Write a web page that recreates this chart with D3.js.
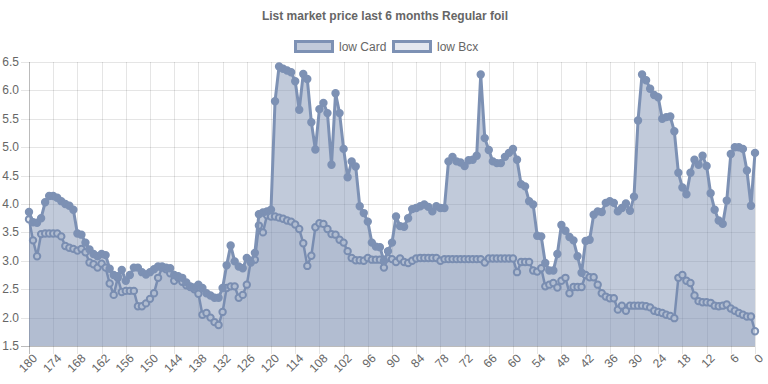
<!DOCTYPE html>
<html>
<head>
<meta charset="utf-8">
<script src="https://cdn.jsdelivr.net/npm/d3@7"></script>
<style>
  html, body { margin: 0; padding: 0; background: #fff; }
  svg { display: block; font-family: Arial, "Liberation Sans", Helvetica, sans-serif; }
</style>
</head>
<body>
<svg id="chart" width="768" height="384"></svg>
<script>
// days before today, oldest first
const days = d3.range(180, -1, -1);
const xTickDays = d3.range(180, -1, -6);
const yTicks = [1.5, 2.0, 2.5, 3.0, 3.5, 4.0, 4.5, 5.0, 5.5, 6.0, 6.5];

const lowCard = [
  3.86, 3.68, 3.67, 3.75, 4.03, 4.14, 4.14, 4.11, 4.05, 4.0,
  3.97, 3.9, 3.48, 3.46, 3.32, 3.2, 3.12, 3.08, 3.12, 3.1,
  2.86, 2.75, 2.73, 2.84, 2.65, 2.75, 2.88, 2.88, 2.8, 2.76,
  2.8, 2.85, 2.9, 2.9, 2.88, 2.87, 2.75, 2.73, 2.7, 2.62,
  2.55, 2.53, 2.58, 2.52, 2.43, 2.39, 2.35, 2.35, 2.52, 2.92,
  3.27, 2.99, 2.9, 2.87, 3.05, 2.97, 3.14, 3.82, 3.85, 3.87,
  3.9, 5.81, 6.42, 6.38, 6.35, 6.32, 6.16, 5.66, 6.29, 6.2,
  5.44, 4.96, 5.67, 5.78, 5.6, 4.69, 5.95, 5.6, 4.97, 4.47,
  4.75, 4.66, 3.96, 3.84, 3.69, 3.32, 3.25, 3.24, 3.0, 3.17,
  3.32, 3.78, 3.61, 3.6, 3.75, 3.91, 3.93, 3.96, 3.99, 3.95,
  3.87, 3.96, 3.93, 3.93, 4.75, 4.83, 4.75, 4.73, 4.67, 4.77,
  4.78, 4.85, 6.28, 5.16, 4.95, 4.75, 4.72, 4.72, 4.83, 4.9,
  4.97, 4.78, 4.35, 4.31, 4.05, 3.99, 3.44, 3.43, 2.96, 2.83,
  2.83, 3.12, 3.63, 3.53, 3.42, 3.36, 3.08, 2.79, 3.35, 3.37,
  3.81, 3.87, 3.86, 4.02, 4.05, 4.02, 3.87, 3.93, 4.01, 3.88,
  4.13, 5.47, 6.28, 6.18, 6.03, 5.92, 5.88, 5.5, 5.53, 5.54,
  5.28, 4.55, 4.29, 4.17, 4.55, 4.78, 4.69, 4.85, 4.67, 4.19,
  3.9, 3.71, 3.65, 4.06, 4.88, 5.0, 5.0, 4.97, 4.59, 3.97,
  4.9
];

const lowBcx = [
  3.73, 3.36, 3.08, 3.47, 3.48, 3.48, 3.48, 3.48, 3.43, 3.26,
  3.23, 3.21, 3.18, 3.21, 3.15, 2.97, 2.94, 2.88, 2.95, 2.88,
  2.6, 2.4, 2.7, 2.45, 2.47, 2.47, 2.47, 2.2, 2.2, 2.25,
  2.33, 2.43, 2.7, 2.88, 2.85, 2.78, 2.65, 2.7, 2.63, 2.57,
  2.54, 2.5, 2.42, 2.05, 2.08, 2.0, 1.92, 1.87, 2.1, 2.52,
  2.55, 2.55, 2.35, 2.4, 2.58, 3.0, 3.02, 3.62, 3.5, 3.8,
  3.78, 3.78, 3.76, 3.74, 3.71, 3.69, 3.64, 3.56, 3.31, 2.91,
  3.09, 3.59, 3.66, 3.65, 3.56, 3.47, 3.46, 3.37, 3.32, 3.17,
  3.05, 3.01, 3.01, 3.0, 3.05, 3.02, 3.02, 3.02, 2.88, 3.05,
  3.03, 2.98, 3.04, 2.98, 2.96, 3.0, 3.04, 3.05, 3.05, 3.05,
  3.05, 3.05, 3.0, 3.03, 3.03, 3.03, 3.03, 3.03, 3.03, 3.03,
  3.03, 3.03, 3.03, 2.97, 3.04, 3.04, 3.04, 3.04, 3.04, 3.04,
  3.04, 2.8, 2.98, 2.98, 2.98, 2.83, 2.81, 2.87, 2.55, 2.58,
  2.61, 2.53, 2.65, 2.7, 2.43, 2.54, 2.54, 2.54, 2.75, 2.71,
  2.71, 2.58, 2.43, 2.37, 2.34, 2.34, 2.14, 2.21, 2.12, 2.21,
  2.21, 2.21, 2.21, 2.2, 2.18, 2.12, 2.1, 2.08, 2.05, 2.03,
  1.99, 2.7, 2.75, 2.65, 2.61, 2.39, 2.29, 2.27, 2.27, 2.26,
  2.21, 2.2, 2.21, 2.23, 2.16, 2.12, 2.08, 2.05, 2.02, 2.02,
  1.76
];

const series = [
  {label: 'low Card', values: lowCard, fill: 'rgba(117,137,173,0.45)', pointFill: 'rgb(125,145,180)', lineWidth: 3},
  {label: 'low Bcx', values: lowBcx, fill: 'rgba(117,137,173,0.2)', pointFill: 'rgba(226,231,239,1)', lineWidth: 2.5},
];
const lineColor = 'rgb(125,145,180)';

const svg = d3.select('#chart');
const margin = {top: 62, right: 13, bottom: 38, left: 29};
const W = 768, H = 384;
const plotBottom = 346;

const x = d3.scalePoint().domain(days).range([margin.left, W - margin.right]);
const y = d3.scaleLinear().domain([1.5, 6.5]).range([plotBottom, margin.top]);

// title
svg.append('text')
   .attr('x', W / 2 + 1)
   .attr('y', 20)
   .attr('text-anchor', 'middle')
   .attr('font-size', 12)
   .attr('font-weight', 'bold')
   .attr('fill', '#666')
   .text('List market price last 6 months Regular foil');

// legend
const legend = svg.append('g').attr('font-size', 12).attr('fill', '#666');
const legendX = [294, 392];
series.forEach((s, i) => {
  const g = legend.append('g').attr('transform', 'translate(' + legendX[i] + ',40)');
  g.append('rect')
   .attr('x', 1.5).attr('y', 1.5)
   .attr('width', 37).attr('height', 10)
   .attr('fill', s.fill)
   .attr('stroke', lineColor)
   .attr('stroke-width', 3);
  g.append('text')
   .attr('x', 45)
   .attr('y', 11)
   .text(s.label);
});

// grid
const grid = svg.append('g');
grid.selectAll('line.h')
    .data(yTicks)
    .enter().append('line')
    .attr('x1', margin.left - 8).attr('x2', W - margin.right)
    .attr('y1', d => Math.round(y(d)) + 0.5).attr('y2', d => Math.round(y(d)) + 0.5)
    .attr('stroke', 'rgba(0,0,0,0.1)');
grid.selectAll('line.v')
    .data(xTickDays)
    .enter().append('line')
    .attr('x1', d => Math.round(x(d)) + 0.5).attr('x2', d => Math.round(x(d)) + 0.5)
    .attr('y1', margin.top).attr('y2', plotBottom + 8)
    .attr('stroke', 'rgba(0,0,0,0.1)');
// axis lines a bit darker
svg.append('line')
   .attr('x1', Math.round(x(180)) + 0.5).attr('x2', Math.round(x(180)) + 0.5)
   .attr('y1', margin.top).attr('y2', plotBottom + 8)
   .attr('stroke', 'rgba(0,0,0,0.18)');
svg.append('line')
   .attr('x1', margin.left - 8).attr('x2', W - margin.right)
   .attr('y1', Math.round(y(1.5)) + 0.5).attr('y2', Math.round(y(1.5)) + 0.5)
   .attr('stroke', 'rgba(0,0,0,0.18)');

// y tick labels
svg.append('g')
   .attr('font-size', 12).attr('fill', '#666').attr('text-anchor', 'end')
   .selectAll('text')
   .data(yTicks)
   .enter().append('text')
   .attr('x', 19)
   .attr('y', d => y(d) + 4)
   .text(d => d3.format('.1f')(d));

// x tick labels, rotated
svg.append('g')
   .attr('font-size', 12).attr('fill', '#666').attr('text-anchor', 'end')
   .selectAll('text')
   .data(xTickDays)
   .enter().append('text')
   .attr('transform', d => 'translate(' + (x(d) + 6) + ',' + (plotBottom + 10) + ') rotate(-45)')
   .attr('dy', '0.35em')
   .text(d => d);

// datasets: Bcx drawn first, Card on top
const area = d3.area()
  .x((d, i) => x(days[i]))
  .y0(y(1.5))
  .y1(d => y(d));
const line = d3.line()
  .x((d, i) => x(days[i]))
  .y(d => y(d));

const drawOrder = [series[1], series[0]];
drawOrder.forEach(s => {
  const g = svg.append('g');
  g.append('path')
   .attr('d', area(s.values))
   .attr('fill', s.fill);
  g.append('path')
   .attr('d', line(s.values))
   .attr('fill', 'none')
   .attr('stroke', lineColor)
   .attr('stroke-width', s.lineWidth)
   .attr('stroke-linejoin', 'round');
  g.selectAll('circle')
   .data(s.values)
   .enter().append('circle')
   .attr('cx', (d, i) => x(days[i]))
   .attr('cy', d => y(d))
   .attr('r', 3.2)
   .attr('fill', s.pointFill)
   .attr('stroke', lineColor)
   .attr('stroke-width', 2);
});
</script>
</body>
</html>
